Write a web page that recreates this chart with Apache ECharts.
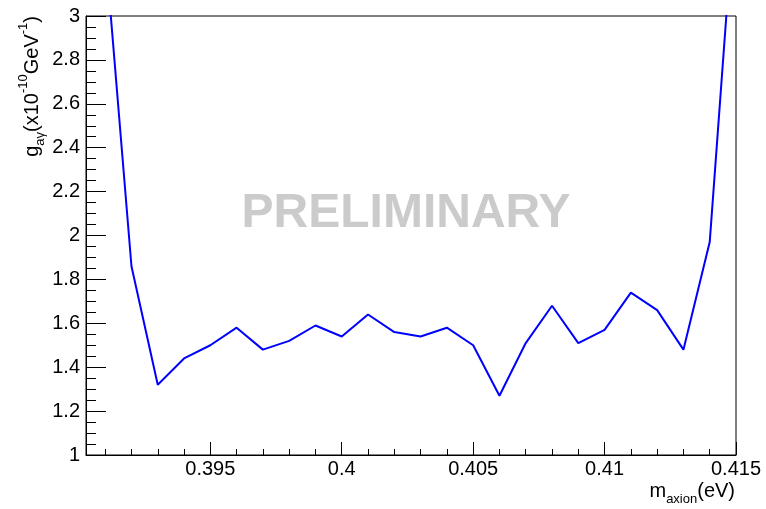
<!DOCTYPE html>
<html>
<head>
<meta charset="utf-8">
<script src="https://cdn.jsdelivr.net/npm/echarts@6/dist/echarts.min.js"></script>
<style>
html,body{margin:0;padding:0;background:#fff;}
#chart{width:766px;height:509px;}
</style>
</head>
<body>
<div id="chart"></div>
<script>
// Data
const masses = [0.391, 0.392, 0.393, 0.394, 0.395, 0.396, 0.397, 0.398, 0.399, 0.400,
                0.401, 0.402, 0.403, 0.404, 0.405, 0.406, 0.407, 0.408, 0.409, 0.410,
                0.411, 0.412, 0.413, 0.414, 0.415];
const coupling = [3.31, 1.86, 1.32, 1.44, 1.50, 1.58, 1.48, 1.52, 1.59, 1.54,
                  1.64, 1.56, 1.54, 1.58, 1.50, 1.27, 1.51, 1.68, 1.51, 1.57,
                  1.74, 1.66, 1.48, 1.97, 3.60];
const xMajorTicks = [0.395, 0.400, 0.405, 0.410, 0.415];
const xMinorTicks = [0.391, 0.392, 0.393, 0.394, 0.396, 0.397, 0.398, 0.399,
                     0.401, 0.402, 0.403, 0.404, 0.406, 0.407, 0.408, 0.409,
                     0.411, 0.412, 0.413, 0.414];
const xRange = [0.39027, 0.415];
const yRange = [1, 3];
const yStep = 0.2;
const watermark = 'PRELIMINARY';

const FONT = '"Liberation Sans", Arial, Helvetica, sans-serif';
const chart = echarts.init(document.getElementById('chart'));
const seriesData = masses.map((m, i) => [m, coupling[i]]);

const option = {
  animation: false,
  backgroundColor: '#ffffff',
  grid: {left: 86, right: 30, top: 16, bottom: 54, show: true, borderColor: '#000', borderWidth: 1, backgroundColor: 'transparent'},
  xAxis: [{
    type: 'value', min: xRange[0], max: xRange[1],
    axisLine: {show: true, onZero: false, lineStyle: {color: '#000', width: 1}},
    axisTick: {show: true, inside: true, length: 13, customValues: xMajorTicks, lineStyle: {color: '#000'}},
    axisLabel: {show: true, customValues: xMajorTicks, margin: 4, color: '#000', fontSize: 20, fontFamily: FONT,
      formatter: v => String(+v.toFixed(3))},
    splitLine: {show: false}
  }, {
    type: 'value', min: xRange[0], max: xRange[1], position: 'bottom', gridIndex: 0,
    axisLine: {show: false},
    axisTick: {show: true, inside: true, length: 6, customValues: xMinorTicks, lineStyle: {color: '#000'}},
    axisLabel: {show: false},
    splitLine: {show: false}
  }],
  yAxis: {
    type: 'value', min: yRange[0], max: yRange[1], interval: yStep,
    axisLine: {show: true, onZero: false, lineStyle: {color: '#000', width: 1}},
    axisTick: {show: true, inside: true, length: 20, lineStyle: {color: '#000'}},
    minorTick: {show: true, splitNumber: 4, length: 10, lineStyle: {color: '#000'}},
    axisLabel: {color: '#000', fontSize: 20, fontFamily: FONT, margin: 6},
    splitLine: {show: false}
  },
  series: [{
    type: 'line', xAxisIndex: 0, data: seriesData, showSymbol: false, symbol: 'none',
    clip: true, lineStyle: {color: '#0000ff', width: 2}, z: 5
  }],
  graphic: [
    {type: 'text', x: 406, y: 214, z: 1, silent: true,
      style: {text: watermark, fill: '#cbcbcb', font: 'bold 48px ' + FONT, align: 'center', verticalAlign: 'middle'}},
    {type: 'text', x: 32, y: 16, rotation: Math.PI / 2, silent: true,
      style: {
        text: '{m|g}{s|aγ}{m|(x10}{p|-10}{m|GeV}{p|-1}{m|)}',
        align: 'right', verticalAlign: 'middle',
        rich: {
          m: {fontSize: 20, fontFamily: FONT, fill: '#000', lineHeight: 30, verticalAlign: 'middle'},
          s: {fontSize: 13, fontFamily: FONT, fill: '#000', lineHeight: 13, verticalAlign: 'bottom'},
          p: {fontSize: 13, fontFamily: FONT, fill: '#000', lineHeight: 13, verticalAlign: 'top'}
        }
      }},
    {type: 'text', x: 735, y: 491, silent: true,
      style: {
        text: '{m|m}{s|axion}{m|(eV)}',
        align: 'right', verticalAlign: 'middle',
        rich: {
          m: {fontSize: 20, fontFamily: FONT, fill: '#000', lineHeight: 30, verticalAlign: 'middle'},
          s: {fontSize: 13, fontFamily: FONT, fill: '#000', lineHeight: 13, verticalAlign: 'bottom'}
        }
      }}
  ]
};
chart.setOption(option);
</script>
</body>
</html>
